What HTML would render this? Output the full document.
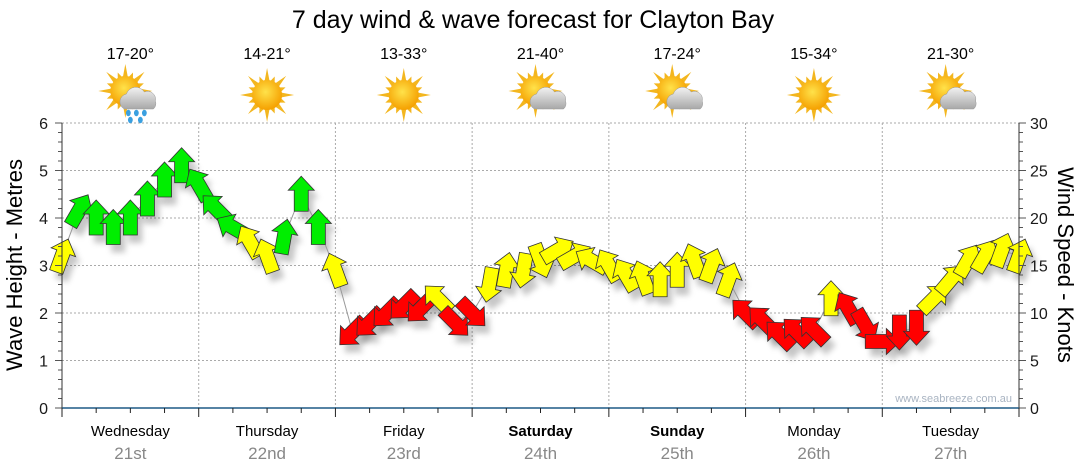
<!DOCTYPE html>
<html><head><meta charset="utf-8"><style>
body{margin:0;background:#fff;}
svg{display:block;font-family:"Liberation Sans",sans-serif;}
</style></head><body>
<svg id="chart" width="1080" height="475" viewBox="0 0 1080 475">
<defs>
<filter id="sh" x="-50%" y="-50%" width="200%" height="200%"><feGaussianBlur stdDeviation="3"/></filter>
<radialGradient id="sun" cx="45%" cy="40%" r="60%"><stop offset="0" stop-color="#ffe24a"/><stop offset="1" stop-color="#f5a000"/></radialGradient>
<linearGradient id="cloud" x1="0" y1="0" x2="0" y2="1"><stop offset="0" stop-color="#f2f2f2"/><stop offset="1" stop-color="#a8a8a8"/></linearGradient>
</defs>
<text x="533" y="28" font-size="25" text-anchor="middle">7 day wind &amp; wave forecast for Clayton Bay</text>
<g id="grid"></g>
<g id="icons"></g>
<g id="shadows"></g>
<g id="marks"></g>
<g id="axes"></g>
<text x="1012" y="402" font-size="11" fill="#a9b4c2" text-anchor="end">www.seabreeze.com.au</text>
<text transform="translate(22,265) rotate(-90)" font-size="22" text-anchor="middle">Wave Height - Metres</text>
<text transform="translate(1058,265) rotate(90)" font-size="22" text-anchor="middle">Wind Speed - Knots</text>
</svg>
<script>
const days=["Wednesday","Thursday","Friday","Saturday","Sunday","Monday","Tuesday"];
const dates=["21st","22nd","23rd","24th","25th","26th","27th"];
const boldDays=[false,false,false,true,true,false,false];
const temps=["17-20°","14-21°","13-33°","21-40°","17-24°","15-34°","21-30°"];
const weather=["rain","sun","sun","cloud","cloud","sun","cloud"];
const waveTicks=[0,1,2,3,4,5,6];
const windTicks=[0,5,10,15,20,25,30];
// wind series, 3-hourly from Wednesday 00:00
const hours=[];for(let i=0;i<57;i++)hours.push(i*3);
const speed=[16,20.8,20,19,20,22,24,25.5, 23.5,21,19,17.5,16,18,22.5,19, 14.5,8,9,10,10.8,10.5,11.5,9, 10,13,14.5,14.5,15.5,16.6,16,15.5, 15,14,13.7,13.5,14.5,15.5,15,13.5, 10,9.2,7.7,8,8.2,11.5,10.5,8.7, 7,8,8.5,11.5,13.5,15.5,16,16.6,16];
const dirs=[20,30,0,0,0,0,0,0, -30,-45,-60,-30,-20,10,0,0, -20,-135,-135,-135,-135,-135,-45,135, 135,190,10,190,160,60,60,-60, -30,-30,-20,0,0,-20,20,20, -45,-45,-45,-45,-45,0,-30,150, 90,180,180,45,40,30,30,20,20];
const X0=62,X1=1019,Y0=408,YT=123;
const xs=h=>X0+(X1-X0)*h/168;
const yWave=v=>Y0-(Y0-YT)*v/6;
const yWind=v=>Y0-(Y0-YT)*v/30;
const NS="http://www.w3.org/2000/svg";
function mk(t,a,p){const e=document.createElementNS(NS,t);for(const k in a)e.setAttribute(k,a[k]);p.appendChild(e);return e;}
const grid=document.getElementById('grid'),axes=document.getElementById('axes'),icons=document.getElementById('icons'),marks=document.getElementById('marks'),shadows=document.getElementById('shadows');
waveTicks.forEach(v=>{if(v>0){const l=mk('line',{x1:X0,x2:X1,y1:yWave(v),y2:yWave(v),stroke:'#aaa','stroke-dasharray':'2,2'},grid);}
 const t=mk('text',{x:48,y:yWave(v)+6,'font-size':16,'text-anchor':'end',fill:'#1a1a1a'},axes);t.textContent=v;});
for(let v=0;v<=6.001;v+=0.2){const y=yWave(v);const big=Math.abs(v-Math.round(v))<0.01;mk('line',{x1:X0-(big?7:4),x2:X0,y1:y,y2:y,stroke:'#555'},axes);}
for(let v=0;v<=30;v++){const y=yWind(v);const big=v%5==0;mk('line',{x1:X1,x2:X1+(big?7:4),y1:y,y2:y,stroke:'#555'},axes);}
windTicks.forEach(v=>{const t=mk('text',{x:1030,y:yWind(v)+6,'font-size':16,fill:'#1a1a1a'},axes);t.textContent=v;});
mk('line',{x1:X0,x2:X0,y1:YT,y2:Y0,stroke:'#333'},axes);
mk('line',{x1:X1,x2:X1,y1:YT,y2:Y0,stroke:'#333'},axes);
mk('line',{x1:X0,x2:X1,y1:Y0,y2:Y0,stroke:'#1f5a85','stroke-width':1.5},axes);
for(let h=0;h<=168;h+=6){const x=xs(h);mk('line',{x1:x,x2:x,y1:Y0,y2:Y0+(h%24==0?9:5),stroke:'#222'},axes);}
days.forEach((d,i)=>{const xb=xs(i*24),xc=xs(i*24+12);
 if(i>0){const l=mk('line',{x1:xb,x2:xb,y1:YT,y2:Y0,stroke:'#aaa','stroke-dasharray':'2,2'},grid);}
 const t=mk('text',{x:xc,y:436,'font-size':15,'text-anchor':'middle','font-weight':boldDays[i]?'bold':'normal'},axes);t.textContent=d;
 const t2=mk('text',{x:xc,y:459,'font-size':17,'text-anchor':'middle',fill:'#888'},axes);t2.textContent=dates[i];
 const t3=mk('text',{x:xc,y:59,'font-size':16,'text-anchor':'middle'},icons);t3.textContent=temps[i];
 const g=mk('g',{transform:`translate(${xc},95)`},icons);
 const sx=weather[i]=='sun'?0:-5,sy=weather[i]=='sun'?0:-4;
 for(let k=0;k<16;k++){const a=k*Math.PI/8,L=k%2?20:27;mk('polygon',{points:`${sx+Math.cos(a)*L},${sy+Math.sin(a)*L} ${sx+Math.cos(a+0.18)*14},${sy+Math.sin(a+0.18)*14} ${sx+Math.cos(a-0.18)*14},${sy+Math.sin(a-0.18)*14}`,fill:'#f3b61f'},g);}
 mk('circle',{cx:sx,cy:sy,r:15,fill:'url(#sun)'},g);
 if(weather[i]!='sun'){mk('path',{d:'M-6,14 a8,8 0 0 1 2,-15 a10,10 0 0 1 18,-2 a8,8 0 0 1 11,9 a7,7 0 0 1 -2,8 z',fill:'url(#cloud)',stroke:'#999','stroke-width':0.5},g);}
 if(weather[i]=='rain'){[[-2,18],[6,18],[14,18],[0,25],[10,25]].forEach(p=>mk('ellipse',{cx:p[0],cy:p[1],rx:2.4,ry:3.2,fill:'#3aa0e0'},g));}
});
// connecting line
let pts=hours.map((h,i)=>xs(h)+','+yWind(speed[i])).join(' ');
const pl=mk('polyline',{points:pts,fill:'none',stroke:'#999','stroke-width':1},marks);
const arrow='0,-18 13,-4 7,-4 7,17 -7,17 -7,-4 -13,-4';
hours.forEach((h,i)=>{const v=speed[i];const col=v<11?'#ff0000':(v<18?'#ffff00':'#00ee00');
 const x=xs(h),y=yWind(v);
 mk('polygon',{points:arrow,transform:`translate(${x+5},${y+8}) rotate(${dirs[i]})`,fill:'#000','fill-opacity':0.22,filter:'url(#sh)'},shadows);
 const p=mk('polygon',{points:arrow,transform:`translate(${x},${y}) rotate(${dirs[i]})`,fill:col,stroke:'#333','stroke-width':0.8},marks);
 
 
});
</script>
</body></html>
